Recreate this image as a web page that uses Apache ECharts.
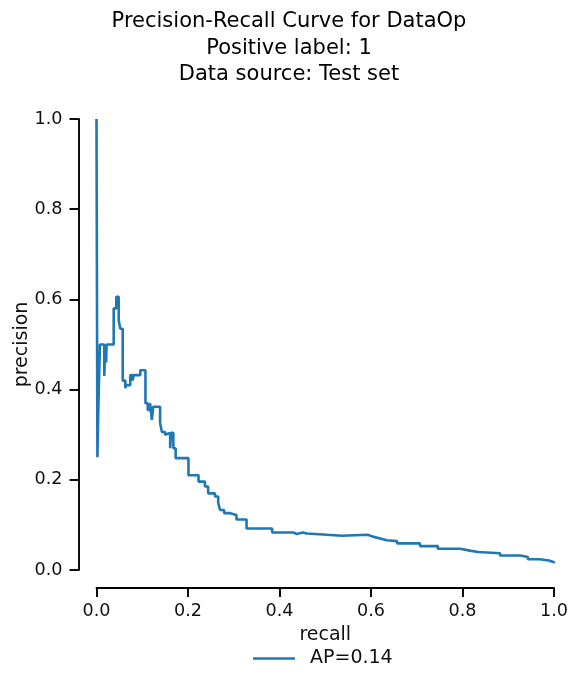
<!DOCTYPE html>
<html>
<head>
<meta charset="utf-8">
<script src="https://cdn.jsdelivr.net/npm/echarts@6/dist/echarts.min.js"></script>
<style>html,body{margin:0;padding:0;background:#fff;}#c{width:578px;height:688px;}</style>
</head>
<body>
<div id="c"></div>
<script>
// Data (step curve vertices, ascending recall)
const recall = [0.000, 0.002, 0.0035, 0.005, 0.0075, 0.017, 0.019, 0.021, 0.022, 0.0376, 0.0433,
  0.0485, 0.052, 0.0573, 0.063, 0.064, 0.0739, 0.079, 0.0813, 0.0957, 0.107, 0.112, 0.117, 0.121, 0.124,
  0.139, 0.143, 0.150, 0.152, 0.161, 0.163, 0.168, 0.173, 0.201, 0.223, 0.237, 0.244, 0.259, 0.266,
  0.270, 0.279, 0.292, 0.306, 0.328, 0.384, 0.430, 0.438, 0.451, 0.460, 0.504, 0.536, 0.593, 0.604,
  0.620, 0.635, 0.657, 0.707, 0.746, 0.795, 0.816, 0.834, 0.882, 0.926, 0.943, 0.969, 0.989, 1.000];
const precision = [1.000, 0.250, 0.333, 0.400, 0.500, 0.430, 0.500, 0.460, 0.500, 0.580, 0.606,
  0.554, 0.535, 0.420, 0.403, 0.410, 0.432, 0.420, 0.432, 0.443, 0.370, 0.355, 0.370, 0.333, 0.362,
  0.326, 0.306, 0.300, 0.304, 0.270, 0.304, 0.270, 0.248, 0.210, 0.196, 0.185, 0.170, 0.163, 0.149,
  0.133, 0.126, 0.122, 0.112, 0.092, 0.083, 0.080, 0.083, 0.081, 0.078, 0.076, 0.078, 0.074, 0.070,
  0.066, 0.064, 0.059, 0.053, 0.047, 0.043, 0.040, 0.037, 0.032, 0.029, 0.024, 0.021, 0.017, 0.015];
const xTicks = [0, 0.2, 0.4, 0.6, 0.8, 1.0];
const yTicks = [0, 0.2, 0.4, 0.6, 0.8, 1.0];
const seriesName = 'AP=0.14';
const titleLines = ['Precision-Recall Curve for DataOp', 'Positive label: 1', 'Data source: Test set'];

const FONT = 'DejaVu Sans';
const TXT = '#111';
const chart = echarts.init(document.getElementById('c'), null, {renderer: 'canvas'});
const axisCommon = {
  type: 'value', min: xTicks[0], max: xTicks[xTicks.length - 1], interval: 0.2, offset: 18,
  axisLine: {show: true, onZero: false, lineStyle: {color: '#000', width: 1.9}},
  axisTick: {show: true, length: 9, lineStyle: {color: '#000', width: 1.9}},
  splitLine: {show: false},
  axisLabel: {fontFamily: FONT, fontSize: 17.6, color: TXT,
    formatter: v => v.toFixed(1)},
  nameLocation: 'middle',
  nameMoveOverlap: false,
  nameTextStyle: {fontFamily: FONT, fontSize: 19, color: TXT}
};
chart.setOption({
  animation: false,
  backgroundColor: '#fff',
  title: {
    text: titleLines.join('\n'), left: 'center', top: 3,
    textStyle: {fontFamily: FONT, fontSize: 21, fontWeight: 'normal', color: '#000', lineHeight: 26.8}
  },
  grid: {left: 96.5, right: 24, top: 119, bottom: 118, containLabel: false, outerBoundsMode: 'none'},
  xAxis: Object.assign({}, axisCommon, {name: 'recall', nameGap: 38,
    axisLabel: Object.assign({}, axisCommon.axisLabel, {margin: 14})}),
  yAxis: Object.assign({}, axisCommon, {min: yTicks[0], max: yTicks[yTicks.length - 1],
    name: 'precision', nameGap: 47,
    axisLabel: Object.assign({}, axisCommon.axisLabel, {margin: 16})}),
  legend: {
    data: [{name: seriesName, icon: 'rect'}], left: 253, top: 649, padding: 0,
    itemWidth: 42, itemHeight: 2.6,
    textStyle: {fontFamily: FONT, fontSize: 19, color: TXT, padding: [0, 0, 0, 10]}
  },
  series: [{
    name: seriesName, type: 'line', step: 'end', symbol: 'none', clip: false,
    lineStyle: {color: '#1f77b4', width: 2.6}, itemStyle: {color: '#1f77b4'},
    data: recall.map((r, i) => [r, precision[i]])
  }]
});
</script>
</body>
</html>
